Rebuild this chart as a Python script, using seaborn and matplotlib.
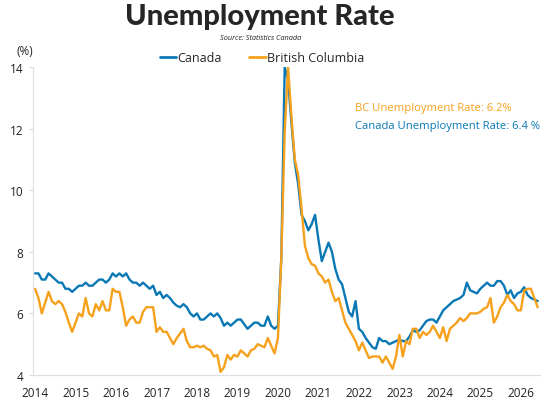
import numpy as np
import pandas as pd
import matplotlib
matplotlib.use("Agg")
import matplotlib.pyplot as plt
import seaborn as sns

# ── DATA (monthly) ─────────────────────────────────────
canada = [
    7.3, 7.3, 7.1, 7.1, 7.3, 7.2, 7.1, 7.0, 7.0, 6.8, 6.8, 6.7,
    6.8, 6.9, 6.9, 7.0, 6.9, 6.9, 7.0, 7.1, 7.1, 7.0, 7.1, 7.3,
    7.2, 7.3, 7.2, 7.3, 7.1, 7.0, 7.0, 6.9, 7.0, 6.9, 6.8, 6.9,
    6.6, 6.7, 6.5, 6.6, 6.5, 6.35, 6.25, 6.2, 6.3, 6.2, 6.0, 5.9,
    6.0, 5.8, 5.8, 5.9, 6.0, 5.9, 6.0, 5.85, 5.6, 5.7, 5.6, 5.7,
    5.8, 5.8, 5.65, 5.5, 5.6, 5.7, 5.7, 5.6, 5.6, 5.9, 5.6, 5.5,
    5.6, 7.8, 14.0, 13.6, 12.2, 10.9, 10.2, 9.2, 9.0, 8.7, 8.9, 9.2,
    8.4, 7.7, 8.0, 8.3, 8.0, 7.45, 7.1, 6.95, 6.5, 6.05, 5.9, 6.4,
    5.5, 5.4, 5.2, 5.05, 4.9, 4.85, 5.2, 5.1, 5.1, 5.0, 5.05, 5.1,
    5.15, 5.1, 5.1, 5.25, 5.45, 5.4, 5.45, 5.6, 5.75, 5.8, 5.8, 5.7,
    5.9, 6.1, 6.2, 6.3, 6.4, 6.45, 6.5, 6.6, 7.0, 6.75, 6.7, 6.65,
    6.8, 6.9, 7.0, 6.9, 6.9, 7.05, 7.05, 6.9, 6.6, 6.75, 6.5, 6.65,
    6.7, 6.85, 6.6, 6.5, 6.45, 6.4,
]
bc = [
    6.8, 6.5, 6.0, 6.35, 6.7, 6.4, 6.3, 6.4, 6.3, 6.05, 5.7, 5.4,
    5.7, 6.0, 5.9, 6.5, 6.0, 5.9, 6.3, 6.1, 6.4, 6.1, 6.1, 6.8,
    6.7, 6.7, 6.2, 5.6, 5.8, 5.9, 5.7, 5.7, 6.05, 6.2, 6.2, 6.2,
    5.4, 5.55, 5.4, 5.4, 5.2, 5.0, 5.2, 5.35, 5.5, 5.1, 4.9, 4.9,
    4.95, 4.9, 4.95, 4.85, 4.8, 4.6, 4.65, 4.1, 4.25, 4.65, 4.5, 4.65,
    4.6, 4.8, 4.7, 4.6, 4.8, 4.85, 5.0, 4.95, 4.9, 5.2, 4.95, 4.7,
    5.2, 7.8, 11.9, 14.0, 12.4, 11.0, 10.5, 9.4, 8.2, 7.8, 7.6, 7.55,
    7.3, 7.2, 7.0, 7.1, 6.7, 6.4, 6.5, 6.1, 5.7, 5.5, 5.3, 5.1,
    4.8, 5.05, 4.8, 4.55, 4.6, 4.6, 4.6, 4.4, 4.6, 4.4, 4.2, 4.6,
    5.3, 4.6, 5.1, 5.0, 5.5, 5.5, 5.2, 5.4, 5.3, 5.4, 5.6, 5.4,
    5.2, 5.55, 5.1, 5.5, 5.6, 5.7, 5.85, 5.75, 5.85, 6.0, 6.0, 6.0,
    6.05, 6.15, 6.2, 6.5, 5.7, 5.9, 6.2, 6.35, 6.6, 6.4, 6.3, 6.1,
    6.1, 6.75, 6.8, 6.8, 6.5, 6.2,
]
years = list(range(2014, 2027))
y_ticks = [4, 6, 8, 10, 12, 14]

CANADA_COL = "#0a78b4"
BC_COL = "#f6a11c"

n = len(canada)
t = 2014 + np.arange(n) / 12
df = pd.DataFrame({
    "date": np.concatenate([t, t]),
    "rate": canada + bc,
    "region": ["Canada"] * n + ["British Columbia"] * n,
})

# ── PLOT ───────────────────────────────────────────────
sns.set_theme(style="white")
plt.rcParams["font.family"] = ["Open Sans", "DejaVu Sans"]

fig = plt.figure(figsize=(5.6, 4.06), dpi=100)
ax = fig.add_axes([0.059, 0.074, 0.905, 0.758])

sns.lineplot(data=df, x="date", y="rate", hue="region",
             hue_order=["Canada", "British Columbia"],
             palette=[CANADA_COL, BC_COL], linewidth=1.7, ax=ax)

ax.set_xlim(2013.95, 2026.47)
ax.set_ylim(4, 14)
ax.set_xticks(years)
ax.set_yticks(y_ticks)
ax.set_xlabel("")
ax.set_ylabel("")
ax.tick_params(axis="x", length=0, pad=8, labelsize=8.5, colors="#222222")
ax.tick_params(axis="y", length=3, width=0.8, color="#dddddd", pad=4,
               labelsize=8.5, labelcolor="#222222", left=True)
for s in ["top", "right"]:
    ax.spines[s].set_visible(False)
for s in ["left", "bottom"]:
    ax.spines[s].set_color("#e0e0e0")
    ax.spines[s].set_linewidth(0.9)

leg = ax.legend(loc="center", bbox_to_anchor=(0.452, 1.03), ncol=2,
                frameon=False, fontsize=9, handlelength=1.3,
                handletextpad=0.1, columnspacing=2.2, borderaxespad=0)
for line in leg.get_lines():
    line.set_linewidth(2)

fig.text(0.464, 0.958, "Unemployment Rate", ha="center", va="center",
         fontsize=21, fontweight="black", family=["Lato", "DejaVu Sans"])
fig.text(0.465, 0.904, "Source: Statistics Canada", ha="center", va="center",
         fontsize=5.3, style="italic", color="#222222")
fig.text(0.045, 0.873, "(%)", ha="center", va="center", fontsize=8.5,
         color="#222222")

ax.text(0.635, 0.87, "BC Unemployment Rate: 6.2%", transform=ax.transAxes,
        color=BC_COL, fontsize=8.1, va="center", ha="left")
ax.text(0.635, 0.81, "Canada Unemployment Rate: 6.4 %", transform=ax.transAxes,
        color=CANADA_COL, fontsize=8.1, va="center", ha="left")

fig.savefig("out.png", dpi=100)
